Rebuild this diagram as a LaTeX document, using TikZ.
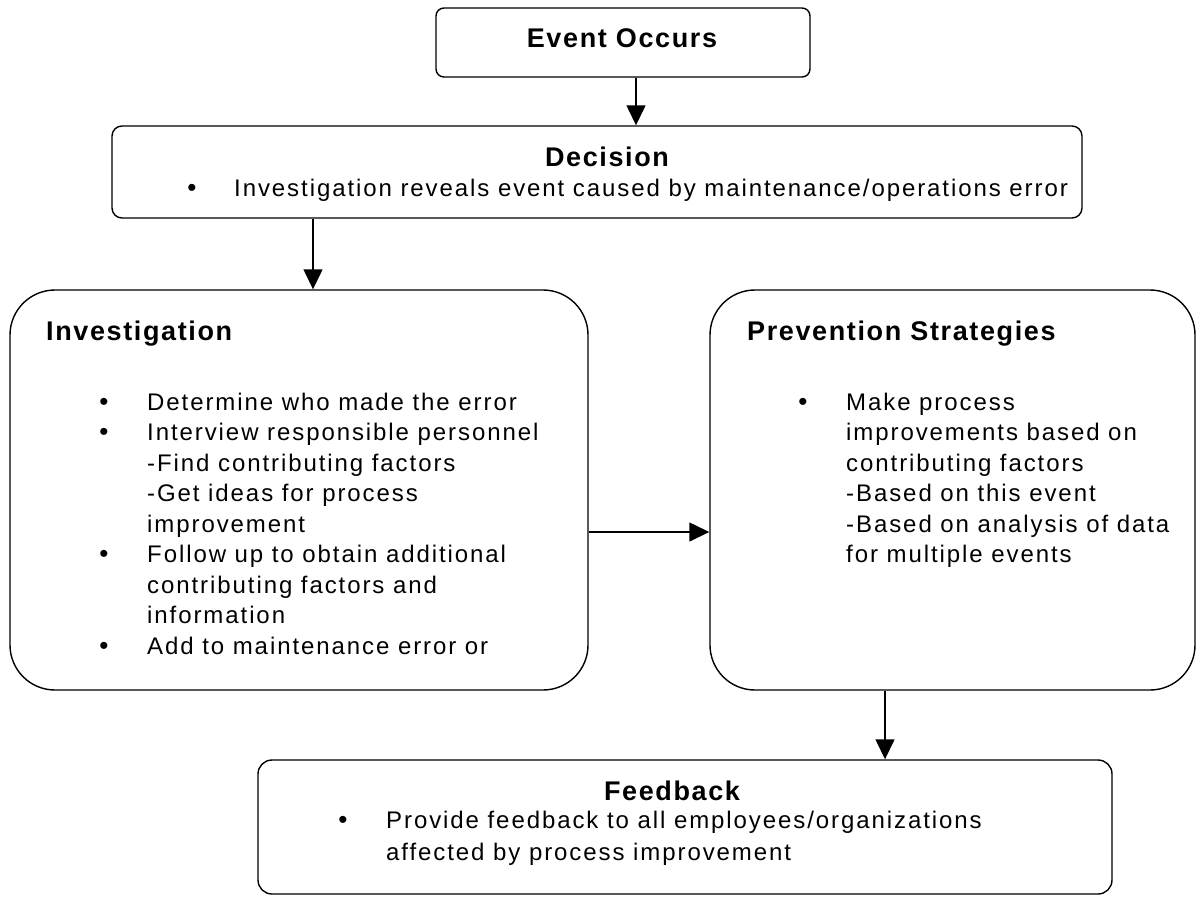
\documentclass[tikz,border=0pt]{standalone}
\usepackage{fontspec}
\setmainfont{Liberation Sans}
\newfontfamily\bodyfnt[LetterSpace=8]{Liberation Sans}
\newfontfamily\ttlfnt[LetterSpace=6]{Liberation Sans}
\usetikzlibrary{arrows.meta}
\begin{document}
\begin{tikzpicture}[x=1pt,y=-1pt,
  box/.style={draw=black, line width=1.4pt, rounded corners=#1, inner sep=0pt},
  ttl/.style={font=\ttlfnt\fontsize{27}{30}\selectfont\bfseries, inner sep=0pt},
  txt/.style={font=\bodyfnt\fontsize{24}{30}\selectfont, inner sep=0pt, anchor=base west},
  bul/.style={font=\fontsize{26}{30}\selectfont, inner sep=0pt, anchor=base},
  arr/.style={line width=1.4pt, -{Triangle[length=20pt,width=19pt]}}
]
\useasboundingbox (0,0) rectangle (1201,897);
% boxes
\node[box=8pt, minimum width=374pt, minimum height=69pt] (ev) at (623,42.5) {};
\node[box=10pt, minimum width=970pt, minimum height=92pt] (dec) at (597,172) {};
\node[box=45pt, minimum width=578pt, minimum height=400pt] (inv) at (299,490) {};
\node[box=45pt, minimum width=485pt, minimum height=400pt] (prev) at (952.5,490) {};
\node[box=14pt, minimum width=854pt, minimum height=134pt] (fb) at (685,827) {};
% titles
\node[ttl, anchor=base] (evT) at (622,47) {Event Occurs};
\node[ttl, anchor=base] (decT) at (607,166) {Decision};
\node[ttl, anchor=base west] (invT) at (46,340) {Investigation};
\node[ttl, anchor=base west] (prevT) at (747,340) {Prevention Strategies};
\node[ttl, anchor=base] (fbT) at (672,800) {Feedback};
% decision text
\node[bul] (decB) at (192,196) {•};
\node[txt] (decL) at (234,196) {Investigation reveals event caused by maintenance/operations error};
% investigation text
\node[bul] (invB1) at (104,410) {•};
\node[txt] (invL1) at (147,410) {Determine who made the error};
\node[bul] (invB2) at (104,440.5) {•};
\node[txt] (invL2) at (147,440.5) {Interview responsible personnel};
\node[txt] (invL3) at (147,471) {-Find contributing factors};
\node[txt] (invL4) at (147,501.5) {-Get ideas for process};
\node[txt] (invL5) at (147,532) {improvement};
\node[bul] (invB3) at (104,562.5) {•};
\node[txt] (invL6) at (147,562.5) {Follow up to obtain additional};
\node[txt] (invL7) at (147,593) {contributing factors and};
\node[txt] (invL8) at (147,623.5) {information};
\node[bul] (invB4) at (104,654) {•};
\node[txt] (invL9) at (147,654) {Add to maintenance error or};
% prevention text
\node[bul] (prevB1) at (803,410) {•};
\node[txt] (prevL1) at (846,410) {Make process};
\node[txt] (prevL2) at (846,440.5) {improvements based on};
\node[txt] (prevL3) at (846,471) {contributing factors};
\node[txt] (prevL4) at (846,501.5) {-Based on this event};
\node[txt] (prevL5) at (846,532) {-Based on analysis of data};
\node[txt] (prevL6) at (846,562.5) {for multiple events};
% feedback text
\node[bul] (fbB) at (343,828) {•};
\node[txt] (fbL1) at (386,828) {Provide feedback to all employees/organizations};
\node[txt] (fbL2) at (386,860) {affected by process improvement};
% connectors
\draw[arr] ([xshift=13pt]ev.south) -- ([xshift=39pt]dec.north);
\draw[arr] ([xshift=-284pt]dec.south) -- ([xshift=14pt]inv.north);
\draw[arr] ([yshift=-42pt]inv.east) -- ([yshift=-42pt]prev.west);
\draw[arr] ([xshift=-67.5pt]prev.south) -- ([xshift=200pt]fb.north);
\end{tikzpicture}
\end{document}
